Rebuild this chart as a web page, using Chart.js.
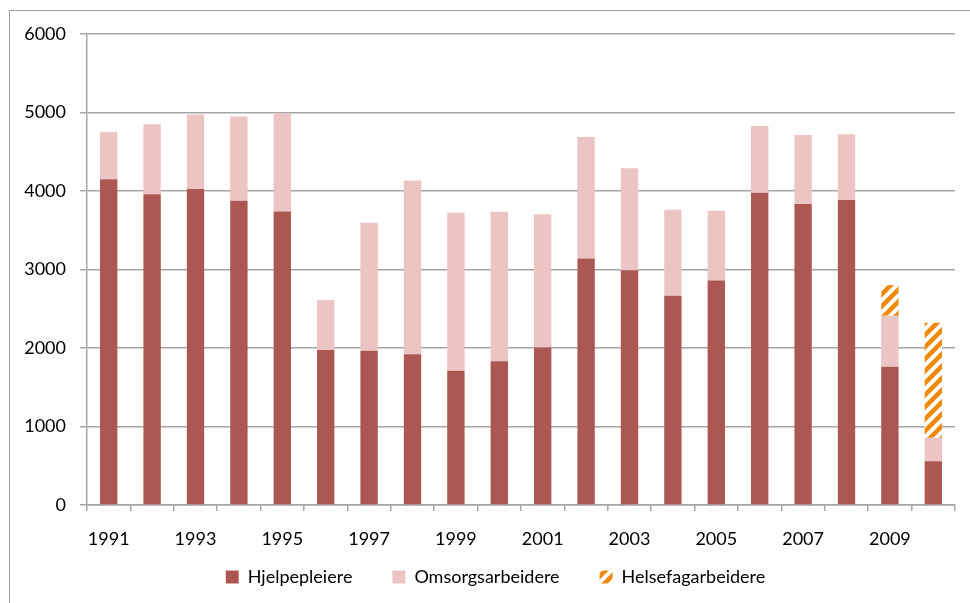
<!DOCTYPE html>
<html>
<head>
  <title>Hjelpepleiere, omsorgsarbeidere og helsefagarbeidere</title>
  <script src="https://cdn.jsdelivr.net/npm/chart.js"></script>
  <style>
    html, body { margin: 0; padding: 0; background: #fff; }
    #wrap { width: 970px; height: 603px; position: relative; }
  </style>
</head>
<body>
  <div id="wrap"><canvas id="chart"></canvas></div>

  <script>
    // data
    const years = ['1991','1992','1993','1994','1995','1996','1997','1998','1999','2000',
                   '2001','2002','2003','2004','2005','2006','2007','2008','2009','2010'];
    const hjelpepleiere = [4150, 3960, 4025, 3875, 3740, 1975, 1965, 1920, 1710, 1830,
                           2005, 3140, 2990, 2665, 2860, 3978, 3835, 3885, 1760, 558];
    const omsorgsarbeidere = [600, 890, 950, 1075, 1250, 635, 1630, 2215, 2015, 1905,
                              1700, 1548, 1300, 1097, 890, 850, 878, 837, 650, 298];
    const helsefagarbeidere = [0, 0, 0, 0, 0, 0, 0, 0, 0, 0,
                               0, 0, 0, 0, 0, 0, 0, 0, 391, 1466];
    const yTicks = [0, 1000, 2000, 3000, 4000, 5000, 6000];

    const gridGrey = '#a6a6a6';
    const font = { family: 'Lato', size: 18 };

    // orange diagonal hatch
    function hatch() {
      const c = document.createElement('canvas');
      c.width = 12; c.height = 12;
      const g = c.getContext('2d');
      g.fillStyle = '#fff';
      g.fillRect(0, 0, 12, 12);
      g.strokeStyle = '#f08a0c';
      g.lineWidth = 4.5;
      g.beginPath();
      g.moveTo(-3, 15); g.lineTo(15, -3);
      g.moveTo(-9, 9); g.lineTo(9, -9);
      g.moveTo(3, 21); g.lineTo(21, 3);
      g.stroke();
      return g.createPattern(c, 'repeat');
    }

    // outer frame + small layout nudges (legend a bit right, room for x labels)
    const frame = {
      id: 'frame',
      afterLayout(chart) {
        chart.legend.left += 18;
        chart.legend.right += 18;
        chart.scales.x.bottom += 35;
      },
      afterDraw(chart) {
        const ctx = chart.ctx;
        ctx.save();
        ctx.strokeStyle = '#a0a0a0';
        ctx.lineWidth = 1;
        ctx.strokeRect(9.5, 10.5, 1000, 1000);
        ctx.restore();
      }
    };

    Chart.defaults.font = font;
    Chart.defaults.color = '#000';

    new Chart(document.getElementById('chart'), {
      type: 'bar',
      data: {
        labels: years,
        datasets: [
          { label: 'Hjelpepleiere', data: hjelpepleiere, backgroundColor: '#ad5752' },
          { label: 'Omsorgsarbeidere', data: omsorgsarbeidere, backgroundColor: '#ebc4c3' },
          { label: 'Helsefagarbeidere', data: helsefagarbeidere, backgroundColor: hatch() }
        ]
      },
      options: {
        responsive: true,
        maintainAspectRatio: false,
        animation: false,
        datasets: { bar: { barPercentage: 0.4, categoryPercentage: 1 } },
        layout: { padding: { top: 34, right: 15, left: 0, bottom: 7 } },
        plugins: {
          tooltip: { enabled: false },
          legend: {
            position: 'bottom',
            labels: { boxWidth: 13, boxHeight: 13, padding: 40, font: font }
          }
        },
        scales: {
          x: {
            stacked: true,
            offset: true,
            grid: {
              offset: true, drawOnChartArea: false, drawTicks: true,
              tickLength: 6, color: gridGrey, lineWidth: 1.5
            },
            border: { color: gridGrey, width: 1.5 },
            ticks: {
              autoSkip: false, maxRotation: 0, padding: 17,
              callback: (v, i) => (i % 2 === 0 ? years[i] : '')
            },
            afterFit: s => { s.height = 23; }
          },
          y: {
            stacked: true,
            min: 0,
            max: 6000,
            afterBuildTicks: s => { s.ticks = yTicks.map(v => ({ value: v })); },
            grid: { color: gridGrey, lineWidth: 1.5, tickLength: 7 },
            border: { color: gridGrey, width: 1.5 },
            ticks: { padding: 14, callback: v => String(v) },
            afterFit: s => { s.width = 87; }
          }
        }
      },
      plugins: [frame]
    });
  </script>
</body>
</html>
